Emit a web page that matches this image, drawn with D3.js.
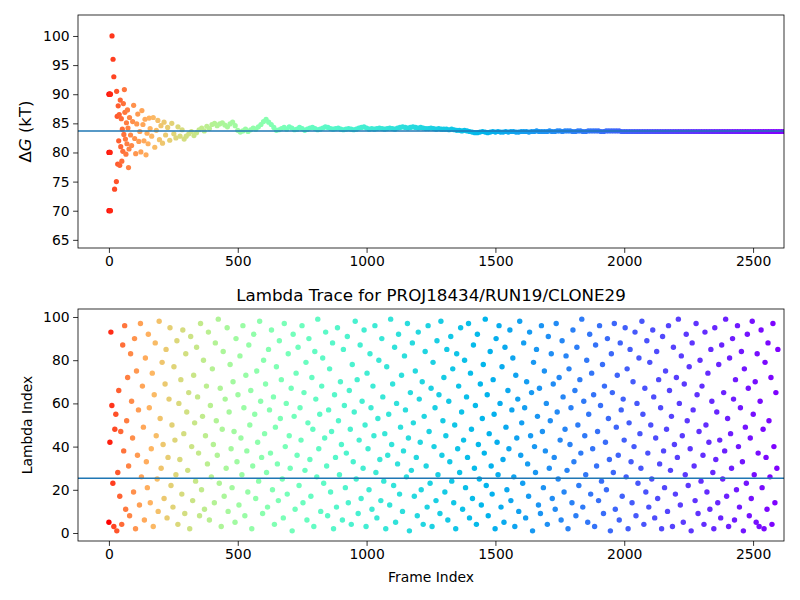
<!DOCTYPE html>
<html><head><meta charset="utf-8">
<script src="https://cdn.jsdelivr.net/npm/d3@7"></script>
<style>body{margin:0;background:#fff;font-family:"DejaVu Sans",sans-serif;}</style>
</head><body>
<svg id="chart" width="800" height="600"></svg>
<script>
const maxFrame = 2600;
const dgMean = 83.7;
const lambdaMean = 25.3;
const xTicks = [0, 500, 1000, 1500, 2000, 2500];
const dgTicks = [65, 70, 75, 80, 85, 90, 95, 100];
const lambdaTicks = [0, 20, 40, 60, 80, 100];

// early scattered free energy estimates (frame, value)
const earlyFrames = [0, 2, 4, 6, 0, 2, 5, 0, 3, 6, 12, 16, 19, 22, 29, 30, 32, 34, 36, 38, 40, 42, 44, 46, 48, 50, 52, 54, 56, 58, 60, 62, 64, 66, 68, 70, 72, 74, 76, 78, 80, 84, 88, 92, 96, 100, 104, 108, 112, 116, 120, 124, 128, 132, 136, 140, 144, 148, 152, 156, 160, 166, 172, 178, 184, 190, 196, 202, 208, 214, 220, 228, 236, 244, 252, 260, 268, 276, 284, 292];
const earlyDG = [90, 90, 90, 90, 80, 80, 80, 70, 70, 70, 100, 96, 93, 73.7, 75, 90.5, 86.2, 78, 88, 82, 86.5, 77.8, 89, 81, 85.8, 78.5, 84, 80.2, 88.4, 83.1, 90.8, 86.9, 82.3, 79.7, 85.1, 81.5, 87.3, 84.2, 77.4, 80.6, 86.0, 83.0, 81.2, 85.3, 88.1, 82.4, 79.8, 84.9, 86.6, 81.9, 83.6, 80.1, 87.2, 84.8, 82.0, 85.7, 79.6, 83.3, 81.5, 85.9, 84.1, 82.8, 86.0, 80.9, 83.8, 85.5, 82.2, 84.6, 81.6, 85.2, 83.0, 84.3, 82.1, 85.0, 83.2, 82.5, 84.4, 82.8, 83.9, 82.3];
// later estimates every 10 frames from frame 300
const lateStart = 300;
const lateStep = 10;
const lateDG = [
 82.8, 83.2, 83.6, 82.9, 83.4, 83.9, 84.2, 83.7, 84.5, 84.1,
 84.8, 85.0, 84.6, 84.9, 85.1, 84.7, 84.4, 84.9, 85.2, 84.6,
 83.8, 83.5, 83.7, 84.0, 83.6, 83.9, 84.2, 84.0, 84.4, 84.8,
 85.3, 85.7, 85.2, 84.8, 84.3, 83.8, 83.9, 84.1, 84.3, 84.0,
 84.4, 84.2, 83.9, 84.0, 84.3, 84.1, 83.8, 84.0, 84.2, 84.3,
 84.1, 83.9, 84.0, 84.2, 84.4, 84.3, 84.1, 84.0, 84.1, 84.2,
 84.0, 83.9, 84.0, 84.1, 84.0, 83.9, 84.0, 84.2, 84.3, 84.4,
 84.2, 84.0, 84.1, 84.0, 84.1, 84.2, 84.1, 84.0, 84.1, 84.2,
 84.1, 84.0, 84.2, 84.3, 84.4, 84.3, 84.2, 84.3, 84.4, 84.3,
 84.2, 84.3, 84.2, 84.1, 84.1, 84.2, 84.1, 84.0, 84.1, 84.0,
 84.0, 84.0, 83.9, 84.0, 83.9, 83.8, 83.8, 83.7, 83.8, 83.7,
 83.6, 83.5, 83.4, 83.4, 83.5, 83.6, 83.5, 83.4, 83.5, 83.6,
 83.5, 83.6, 83.5, 83.5, 83.6, 83.5, 83.6, 83.6, 83.5, 83.5,
 83.6, 83.6, 83.6, 83.5, 83.6, 83.6, 83.7, 83.6, 83.6, 83.6,
 83.6, 83.7, 83.6, 83.6, 83.7, 83.7, 83.6, 83.7, 83.7, 83.7,
 83.6, 83.6, 83.7, 83.7, 83.6, 83.6, 83.7, 83.7, 83.7, 83.7,
 83.7, 83.6, 83.6, 83.7, 83.7, 83.7, 83.7, 83.7, 83.7, 83.6,
 83.6, 83.6, 83.6, 83.6, 83.6, 83.6, 83.6, 83.6, 83.6, 83.6,
 83.6, 83.6, 83.6, 83.6, 83.6, 83.6, 83.6, 83.6, 83.6, 83.6,
 83.6, 83.6, 83.6, 83.6, 83.6, 83.6, 83.6, 83.6, 83.6, 83.6,
 83.6, 83.6, 83.6, 83.6, 83.6, 83.6, 83.6, 83.6, 83.6, 83.6,
 83.6, 83.6, 83.6, 83.6, 83.6, 83.6, 83.6, 83.6, 83.6, 83.6,
 83.6, 83.6, 83.6, 83.6, 83.6, 83.6, 83.6, 83.6, 83.6, 83.6,
 83.6, 83.6, 83.6, 83.6, 83.6, 83.6, 83.6, 83.6, 83.6, 83.6];

// lambda index, evenly spread over the frames
const lambdaIdx = [
 5, 42, 93, 59, 23, 3, 48, 55, 1, 28, 66, 17, 47, 4, 87, 38, 96, 11, 52, 72,
 31, 8, 83, 61, 44, 19, 90, 2, 75, 36, 57, 13, 97, 26, 68, 49, 6, 81, 33, 21,
 92, 58, 14, 39, 74, 3, 64, 88, 45, 25, 10, 98, 53, 30, 79, 41, 16, 69, 85, 7,
 35, 62, 95, 22, 50, 12, 77, 43, 27, 89, 4, 60, 34, 71, 18, 94, 46, 9, 83, 56,
 29, 65, 2, 91, 40, 15, 73, 51, 24, 86, 63, 37, 8, 97, 20, 54, 80, 11, 45, 68,
 32, 93, 6, 59, 26, 76, 41, 14, 88, 52, 36, 99, 23, 67, 3, 48, 84, 17, 62, 30,
 95, 10, 56, 78, 39, 21, 70, 47, 5, 90, 33, 64, 13, 82, 44, 27, 96, 58, 8, 73,
 38, 19, 87, 50, 66, 2, 31, 92, 55, 16, 75, 42, 24, 98, 61, 35, 9, 80, 46, 69,
 28, 12, 85, 57, 37, 94, 20, 63, 4, 49, 77, 32, 15, 89, 53, 71, 25, 7, 97, 40,
 60, 18, 83, 45, 30, 67, 1, 92, 54, 11, 74, 36, 86, 22, 58, 43, 96, 14, 65, 29,
 79, 6, 51, 90, 34, 17, 72, 48, 3, 84, 62, 26, 99, 39, 55, 10, 68, 81, 23, 44,
 93, 31, 8, 57, 76, 19, 47, 88, 2, 64, 35, 12, 95, 52, 27, 70, 41, 6, 85, 59,
 21, 37, 91, 14, 66, 48, 4, 78, 33, 56, 98, 25, 71, 9, 43, 87, 16, 61, 30, 94,
 50, 3, 74, 39, 20, 83, 58, 11, 68, 45, 96, 28, 7, 53, 80, 34, 15, 90, 63, 24,
 46, 2, 77, 36, 55, 13, 99, 41, 69, 22, 86, 5, 60, 32, 92, 18, 49, 73, 10, 38,
 82, 57, 26, 97, 44, 1, 65, 29, 88, 51, 17, 75, 35, 8, 93, 62, 42, 20, 70, 4,
 54, 84, 31, 12, 96, 47, 23, 67, 3, 79, 40, 58, 15, 89, 27, 64, 9, 98, 36, 52,
 72, 19, 45, 85, 6, 61, 33, 91, 24, 76, 14, 50, 2, 83, 39, 68, 28, 95, 56, 11,
 43, 80, 21, 63, 35, 97, 7, 74, 48, 16, 87, 30, 59, 4, 92, 41, 25, 69, 13, 53,
 78, 37, 99, 22, 64, 8, 46, 84, 31, 18, 71, 55, 2, 90, 42, 27, 96, 60, 12, 77,
 34, 5, 86, 49, 20, 66, 39, 94, 15, 57, 81, 26, 3, 73, 44, 62, 10, 98, 36, 51,
 23, 88, 58, 7, 70, 32, 17, 93, 45, 65, 1, 79, 40, 28, 85, 54, 13, 67, 9, 96,
 47, 21, 75, 38, 60, 4, 91, 30, 52, 83, 16, 69, 35, 11, 97, 56, 25, 72, 43, 6,
 89, 63, 19, 48, 82, 29, 2, 76, 41, 58, 14, 94, 33, 66, 8, 86, 50, 22, 71, 37,
 99, 12, 61, 45, 27, 80, 5, 55, 92, 18, 74, 39, 64, 3, 87, 31, 47, 15, 96, 59,
 24, 78, 9, 68, 42, 20, 90, 53, 34, 1, 83, 65, 28, 97, 11, 49, 73, 36, 6, 88,
 57, 17, 62, 43, 95, 26, 76, 2, 51, 85, 33, 14, 70, 40, 93, 8, 60, 23, 81, 46,
 30, 98, 55, 4, 67, 19, 89, 37, 12, 79, 50, 25, 94, 63, 7, 44, 84, 16, 71, 32,
 58, 2, 91, 38, 21, 75, 48, 10, 96, 66, 29, 54, 3, 86, 41, 18, 72, 35, 99, 60,
 13, 82, 45, 5, 69, 27, 92, 52, 22, 77, 39, 1, 88, 57, 31, 15, 97, 64, 9, 47,
 80, 24, 68, 36, 4, 93, 50, 19, 74, 42, 11, 85, 61, 28, 2, 95, 34, 56, 14, 78,
 43, 7, 87, 25, 65, 38, 99, 17, 53, 3, 81, 46, 30, 90, 62, 6, 71, 20, 96, 40,
 12, 58, 84, 33, 1, 76, 49, 23, 92, 67, 8, 44, 16, 98, 55, 27, 70, 5, 83, 37,
 3, 61, 94, 21, 48, 2, 79, 35, 11, 88, 52, 26, 72, 4, 97, 40, 14, 65, 30, 85];

const svg = d3.select("#chart");
const left = 78, right = 784;
const font = "DejaVu Sans";

function rainbow(t) {
  // matplotlib "rainbow" map
  const r = Math.min(1, Math.abs(2 * t - 0.5));
  const g = Math.sin(Math.PI * t);
  const b = Math.cos(Math.PI * t / 2);
  return d3.rgb(r * 255, g * 255, b * 255).toString();
}
const color = f => rainbow(1 - Math.sqrt(Math.max(0, f) / maxFrame));

const x = d3.scaleLinear().domain([-120, 2620]).range([left, right]);

function panel(top, bottom, yDomain, yTicks) {
  const y = d3.scaleLinear().domain(yDomain).range([bottom, top]);
  const g = svg.append("g");
  const clipId = "clip" + top;
  svg.append("clipPath").attr("id", clipId).append("rect")
    .attr("x", left).attr("y", top).attr("width", right - left).attr("height", bottom - top);
  const plot = g.append("g").attr("clip-path", `url(#${clipId})`);
  const xa = g.append("g").attr("transform", `translate(0,${bottom})`)
    .call(d3.axisBottom(x).tickValues(xTicks).tickFormat(d3.format("d")).tickSize(4.9).tickPadding(3.5));
  const ya = g.append("g").attr("transform", `translate(${left},0)`)
    .call(d3.axisLeft(y).tickValues(yTicks).tickFormat(d3.format("d")).tickSize(4.9).tickPadding(3.5));
  [xa, ya].forEach(a => {
    a.select(".domain").remove();
    a.selectAll("text").attr("font-family", font).attr("font-size", 13.9).attr("fill", "#000");
    a.selectAll("line").attr("stroke", "#000").attr("stroke-width", 0.8);
  });
  g.append("rect").attr("x", left).attr("y", top).attr("width", right - left).attr("height", bottom - top)
    .attr("fill", "none").attr("stroke", "#000").attr("stroke-width", 0.8);
  return { y, plot };
}

// Top panel: free energy estimate.
const p1 = panel(15, 248, [63.6, 103.6], dgTicks);
const dgPoints = earlyFrames.map((f, i) => ({ f, v: earlyDG[i] }))
  .concat(lateDG.map((v, i) => ({ f: lateStart + i * lateStep, v })));
p1.plot.selectAll("circle").data(dgPoints).enter().append("circle")
  .attr("cx", d => x(d.f)).attr("cy", d => p1.y(d.v)).attr("r", 2.6)
  .attr("fill", d => color(d.f));
p1.plot.append("line").attr("x1", left).attr("x2", right)
  .attr("y1", p1.y(dgMean)).attr("y2", p1.y(dgMean))
  .attr("stroke", "#1f77b4").attr("stroke-width", 1.5);
svg.append("text").attr("transform", `translate(31,${(15 + 248) / 2}) rotate(-90)`)
  .attr("text-anchor", "middle").attr("font-family", font).attr("font-size", 16.5)
  .html('Δ<tspan font-style="italic">G</tspan> (kT)');

// Bottom panel: lambda trace.
const p2 = panel(309, 541, [-3.7, 103.7], lambdaTicks);
const lamPoints = lambdaIdx.map((v, i) => ({ f: i * (maxFrame / lambdaIdx.length), v }));
p2.plot.selectAll("circle").data(lamPoints).enter().append("circle")
  .attr("cx", d => x(d.f)).attr("cy", d => p2.y(d.v)).attr("r", 2.7)
  .attr("fill", d => color(d.f));
p2.plot.append("line").attr("x1", left).attr("x2", right)
  .attr("y1", p2.y(lambdaMean)).attr("y2", p2.y(lambdaMean))
  .attr("stroke", "#1f77b4").attr("stroke-width", 1.5);
svg.append("text").attr("x", (left + right) / 2).attr("y", 301).attr("text-anchor", "middle")
  .attr("font-family", font).attr("font-size", 16.7).text("Lambda Trace for PROJ18434/RUN19/CLONE29");
svg.append("text").attr("transform", `translate(32,${(309 + 541) / 2}) rotate(-90)`)
  .attr("text-anchor", "middle").attr("font-family", font).attr("font-size", 13.9).text("Lambda Index");
svg.append("text").attr("x", (left + right) / 2).attr("y", 582).attr("text-anchor", "middle")
  .attr("font-family", font).attr("font-size", 13.9).text("Frame Index");
</script>
</body></html>
